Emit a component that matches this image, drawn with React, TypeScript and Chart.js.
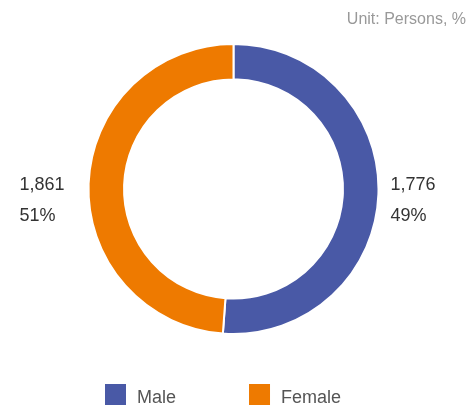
import React, { useEffect, useRef } from 'react';
import { Chart, registerables } from 'chart.js';

Chart.register(...registerables);

const categories = ['Male', 'Female'];
const values = [1776, 1861];
// Arc sizes as drawn in the reference ring (blue segment spans the larger share)
const ringValues = [1861, 1776];
const colors = ['#4959A6', '#EE7A00'];
const unitLabel = 'Unit: Persons, %';

const FONT = '"Liberation Sans", Arial, Helvetica, sans-serif';

const fmt = (v: number) => String(v).replace(/\B(?=(\d{3})+(?!\d))/g, ',');

const sideLabels = {
  id: 'sideLabels',
  afterDatasetsDraw(chart: any) {
    const ctx = chart.ctx;
    const meta = chart.getDatasetMeta(0);
    const total = values.reduce((a, b) => a + b, 0);
    ctx.save();
    ctx.font = `18px ${FONT}`;
    ctx.fillStyle = '#333333';
    ctx.textAlign = 'left';
    ctx.textBaseline = 'alphabetic';
    meta.data.forEach((arc: any, i: number) => {
      const p = arc.getProps(['x', 'y', 'startAngle', 'endAngle', 'outerRadius'], true);
      const mid = (p.startAngle + p.endAngle) / 2;
      const right = Math.cos(mid) >= 0;
      const lx = right ? p.x + p.outerRadius + 12 : p.x - p.outerRadius - 69;
      const v = values[i];
      ctx.fillText(fmt(v), lx, p.y + 0.5);
      ctx.fillText(Math.round((v / total) * 100) + '%', lx, p.y + 31.5);
    });
    ctx.restore();
  },
  afterDraw(chart: any) {
    const ctx = chart.ctx;
    ctx.save();
    // unit label
    ctx.font = `16px ${FONT}`;
    ctx.fillStyle = '#999999';
    ctx.textAlign = 'right';
    ctx.textBaseline = 'alphabetic';
    ctx.fillText(unitLabel, chart.width - 4, 24);
    // legend
    const labels = chart.data.labels as string[];
    const bg = chart.data.datasets[0].backgroundColor as string[];
    ctx.font = `18px ${FONT}`;
    ctx.textAlign = 'left';
    const box = 21;
    const gap = 11;
    const itemGap = 73;
    let x = 105;
    const boxTop = chart.height - 25;
    labels.forEach((lab, i) => {
      ctx.fillStyle = bg[i];
      ctx.fillRect(x, boxTop, box, box);
      ctx.fillStyle = '#555555';
      ctx.fillText(lab, x + box + gap, boxTop + 19);
      x += box + gap + ctx.measureText(lab).width + itemGap;
    });
    ctx.restore();
  },
};

export default function App() {
  const ref = useRef<HTMLCanvasElement | null>(null);
  useEffect(() => {
    if (!ref.current) return;
    const chart = new Chart(ref.current, {
      type: 'doughnut',
      data: {
        labels: categories,
        datasets: [
          {
            data: ringValues,
            backgroundColor: colors,
            borderColor: '#ffffff',
            borderWidth: 2,
            hoverOffset: 0,
          },
        ],
      },
      options: {
        responsive: false,
        animation: false,
        devicePixelRatio: 1,
        radius: 145,
        cutout: '75.5%',
        rotation: 0,
        layout: { padding: { top: 0, bottom: 31, left: 0, right: 3 } },
        plugins: {
          legend: { display: false },
          tooltip: { enabled: false },
          title: { display: false },
        },
      } as any,
      plugins: [sideLabels as any],
    });
    return () => chart.destroy();
  }, []);
  return (
    <div style={{ position: 'fixed', left: 0, top: 0, width: 470, height: 409, background: '#ffffff' }}>
      <canvas ref={ref} width={470} height={409} style={{ display: 'block', width: 470, height: 409 }} />
    </div>
  );
}
